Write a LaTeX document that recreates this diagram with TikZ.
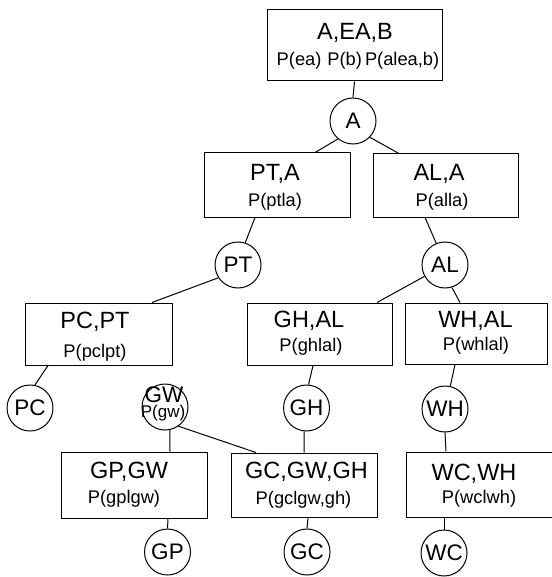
\documentclass[tikz,border=0pt]{standalone}
\usepackage{fontspec}
\setmainfont{Liberation Sans}
\begin{document}
\begin{tikzpicture}[x=1pt,y=-1pt,
  box/.style={draw, rectangle, line width=1pt, inner sep=0pt},
  var/.style={draw, circle, line width=1pt, inner sep=0pt, minimum size=46pt,
              font=\fontsize{22.5}{25}\selectfont},
  head/.style={anchor=base, inner sep=0pt, font=\fontsize{23.5}{26}\selectfont},
  prob/.style={anchor=base, inner sep=0pt, font=\fontsize{18.3}{21}\selectfont},
  small/.style={anchor=base, inner sep=0pt, font=\fontsize{17}{19}\selectfont},
  link/.style={line width=1pt}]
\useasboundingbox (0,0) rectangle (551,577);

% clique boxes
\node[box, minimum width=175pt, minimum height=71pt] (T)    at (354.5,45.5) {};
\node[box, minimum width=146pt, minimum height=64pt] (PTA)  at (277,185) {};
\node[box, minimum width=145pt, minimum height=63pt] (ALA)  at (445.5,185.5) {};
\node[box, minimum width=147pt, minimum height=62pt] (PCPT) at (98.5,334) {};
\node[box, minimum width=145pt, minimum height=62pt] (GHAL) at (319.5,334) {};
\node[box, minimum width=142pt, minimum height=61pt] (WHAL) at (476,333.5) {};
\node[box, minimum width=146pt, minimum height=66pt] (GPGW) at (134,485) {};
\node[box, minimum width=146pt, minimum height=64pt] (GCGH) at (304,485) {};
\node[box, minimum width=146pt, minimum height=65pt] (WCWH) at (479,484.5) {};

% box texts
\node[head] (tT)    at (355,40)  {A,EA,B};
\node[prob] (pT)    at (358,66)  {P(ea)\hspace{6pt}P(b)\hspace{3pt}P(alea,b)};
\node[head] (tPTA)  at (275,181) {PT,A};
\node[prob] (pPTA)  at (275,206) {P(ptla)};
\node[head] (tALA)  at (439,181) {AL,A};
\node[prob] (pALA)  at (442,206) {P(alla)};
\node[head] (tPCPT) at (95,328)  {PC,PT};
\node[prob] (pPCPT) at (95,357)  {P(pclpt)};
\node[head] (tGHAL) at (309,327) {GH,AL};
\node[prob] (pGHAL) at (311,351) {P(ghlal)};
\node[head] (tWHAL) at (475.5,327) {WH,AL};
\node[prob] (pWHAL) at (476,350) {P(whlal)};
\node[head] (tGPGW) at (129,478) {GP,GW};
\node[prob] (pGPGW) at (124,503) {P(gplgw)};
\node[head] (tGCGH) at (306.5,478) {GC,GW,GH};
\node[prob] (pGCGH) at (303.5,504) {P(gclgw,gh)};
\node[head] (tWCWH) at (474,480) {WC,WH};
\node[prob] (pWCWH) at (479,503) {P(wclwh)};

% variable circles
\node[var] (A)  at (353,121)   {A};
\node[var] (PT) at (238,265)   {PT};
\node[var] (AL) at (445,265)   {AL};
\node[var] (PC) at (30,408)    {PC};
\node[var] (GW) at (165,407)   {};
\node[var] (GH) at (306.5,408) {GH};
\node[var] (WH) at (445,409)   {WH};
\node[var] (GP) at (167.5,552) {GP};
\node[var] (GC) at (307,552)   {GC};
\node[var] (WC) at (444,553)   {WC};
\node[head, font=\fontsize{22.5}{25}\selectfont] (tGW) at (164,402) {GW};
\node[small] (pGW) at (163,417) {P(gw)};

% connectors
\draw[link] (T.south) -- (A.north);
\draw[link] (A.230) -- ([xshift=38pt]PTA.north);
\draw[link] (A.316) -- ([xshift=-46.5pt]ALA.north);
\draw[link] ([xshift=-22pt]PTA.south) -- (PT.72);
\draw[link] ([xshift=-20.5pt]ALA.south) -- (AL.112);
\draw[link] (PT.213) -- ([xshift=53.5pt]PCPT.north);
\draw[link] (AL.209) -- ([xshift=57.5pt]GHAL.north);
\draw[link] (AL.287) -- ([xshift=-16pt]WHAL.north);
\draw[link] ([xshift=-50.5pt]PCPT.south) -- (PC.78);
\draw[link] ([xshift=-6.5pt]GHAL.south) -- (GH.85);
\draw[link] ([xshift=-21pt]WHAL.south) -- (WH.77);
\draw[link] (GW.282) -- ([xshift=36pt]GPGW.north);
\draw[link] (GW.305) -- ([xshift=-48pt]GCGH.north);
\draw[link] (GH.264) -- (GCGH.north);
\draw[link] (WH.south) -- ([xshift=-33pt]WCWH.north);
\draw[link] ([xshift=34pt]GPGW.south) -- (GP.north);
\draw[link] ([xshift=4pt]GCGH.south) -- (GC.north);
\draw[link] ([xshift=-35pt]WCWH.south) -- (WC.north);
\end{tikzpicture}
\end{document}
